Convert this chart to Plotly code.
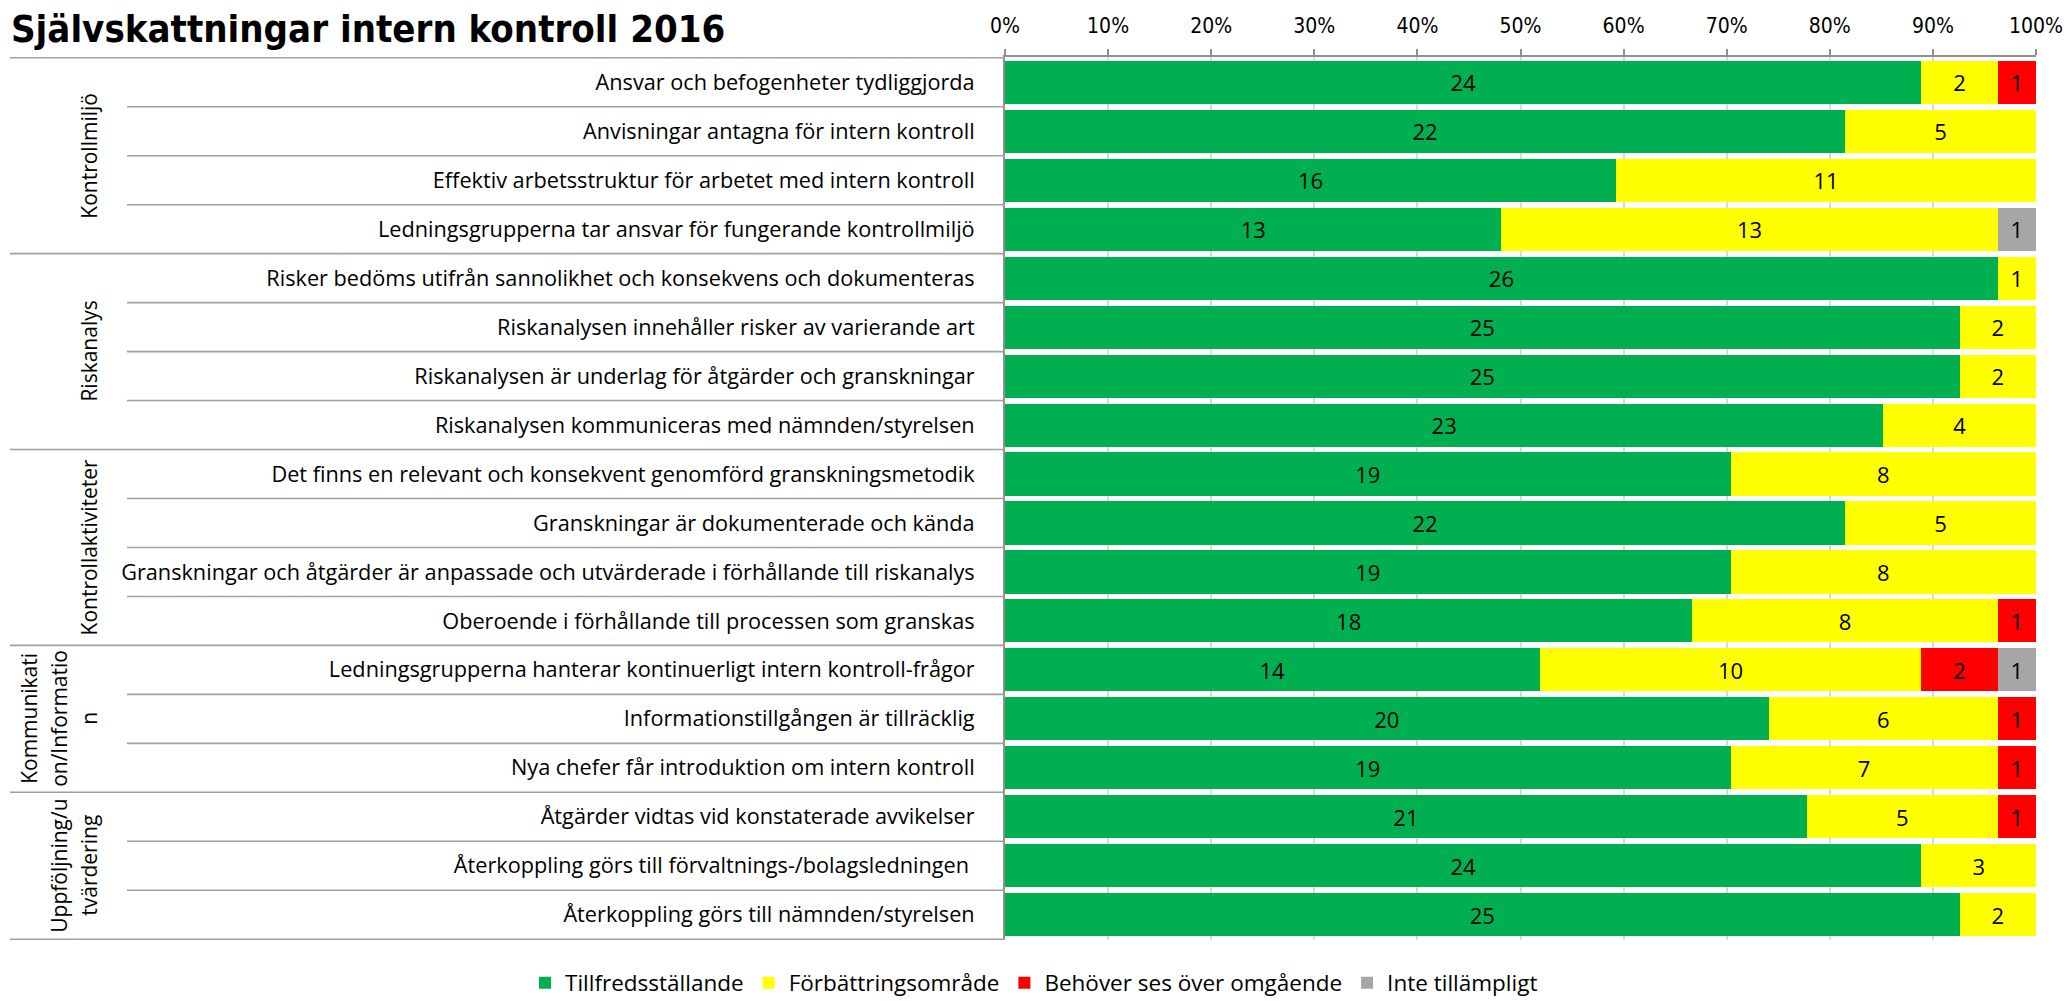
import plotly.graph_objects as go

title_text = "Självskattningar intern kontroll 2016"

categories = [
    "Ansvar och befogenheter tydliggjorda",
    "Anvisningar antagna för intern kontroll",
    "Effektiv arbetsstruktur för arbetet med intern kontroll",
    "Ledningsgrupperna tar ansvar för fungerande kontrollmiljö",
    "Risker bedöms utifrån sannolikhet och konsekvens och dokumenteras",
    "Riskanalysen innehåller risker av varierande art",
    "Riskanalysen är underlag för åtgärder och granskningar",
    "Riskanalysen kommuniceras med nämnden/styrelsen",
    "Det finns en relevant och konsekvent genomförd granskningsmetodik",
    "Granskningar är dokumenterade och kända",
    "Granskningar och åtgärder är anpassade och utvärderade i förhållande till riskanalys",
    "Oberoende i förhållande till processen som granskas",
    "Ledningsgrupperna hanterar kontinuerligt intern kontroll-frågor",
    "Informationstillgången är tillräcklig",
    "Nya chefer får introduktion om intern kontroll",
    "Åtgärder vidtas vid konstaterade avvikelser",
    "Återkoppling görs till förvaltnings-/bolagsledningen ",
    "Återkoppling görs till nämnden/styrelsen",
]

tillfreds = [24, 22, 16, 13, 26, 25, 25, 23, 19, 22, 19, 18, 14, 20, 19, 21, 24, 25]
forbattring = [2, 5, 11, 13, 1, 2, 2, 4, 8, 5, 8, 8, 10, 6, 7, 5, 3, 2]
behover = [1, 0, 0, 0, 0, 0, 0, 0, 0, 0, 0, 1, 2, 1, 1, 1, 0, 0]
inte = [0, 0, 0, 1, 0, 0, 0, 0, 0, 0, 0, 0, 1, 0, 0, 0, 0, 0]

series_names = ["Tillfredsställande", "Förbättringsområde", "Behöver ses över omgående", "Inte tillämpligt"]
series_values = [tillfreds, forbattring, behover, inte]
series_colors = ["#00B050", "#FFFF00", "#FF0000", "#A6A6A6"]

# groups: (label lines, first row index, last row index)
groups = [
    (["Kontrollmiljö"], 0, 3),
    (["Riskanalys"], 4, 7),
    (["Kontrollaktiviteter"], 8, 11),
    (["Kommunikati", "on/Informatio", "n"], 12, 14),
    (["Uppföljning/u", "tvärdering"], 15, 17),
]

tick_vals = [0, 10, 20, 30, 40, 50, 60, 70, 80, 90, 100]
tick_text = [f"{v}%" for v in tick_vals]

# page body has an 8px default margin: figure sized to fit the window
W, H = 2063, 993
L, R, T, B = 997, 35, 49, 61
PW = W - L - R
PH = H - T - B
FONT = "Open Sans, Noto Sans, sans-serif"
COND = "Liberation Sans Narrow, DejaVu Sans Condensed, Open Sans, sans-serif"

fig = go.Figure()
for name, vals, col in zip(series_names, series_values, series_colors):
    fig.add_trace(go.Bar(
        y=categories, x=vals, name=name, orientation="h",
        marker=dict(color=col, line=dict(width=0)),
        text=[str(v) if v else "" for v in vals],
        textposition="inside", insidetextanchor="middle", textangle=0,
        textfont=dict(color="black", size=22, family=FONT),
        hoverinfo="name+x",
    ))

shapes = []
group_starts = {g[1] for g in groups}
n = len(categories)
for b in range(n + 1):
    is_group = b in group_starts or b == n
    shapes.append(dict(
        type="line", xref="paper", xsizemode="pixel", xanchor=0,
        x0=-(L - 2) if is_group else -(L - 119), x1=0,
        yref="y", y0=b - 0.5, y1=b - 0.5,
        line=dict(color="#A0A0A0", width=1.6),
    ))

annotations = []
GF = 21
for lines, s, e in groups:
    yc = (s + e) / 2
    m = len(lines)
    for k, ln in enumerate(lines):
        xc = 81 - 30 * (m - 1 - k)
        annotations.append(dict(
            text=ln, xref="paper", yref="y", x=(xc - L) / PW, y=yc,
            textangle=-90, showarrow=False, xanchor="center", yanchor="middle",
            font=dict(size=GF, family=FONT, color="black"),
        ))

fig.update_layout(
    width=W, height=H,
    margin=dict(l=L, r=R, t=T, b=B, autoexpand=False),
    paper_bgcolor="white", plot_bgcolor="white",
    barmode="stack", barnorm="percent", bargap=0.12,
    title=dict(text="<b>" + title_text + "</b>", xref="container", yref="container",
               x=3 / W, y=1 - 21 / H, xanchor="left", yanchor="middle",
               font=dict(size=38, family=COND, color="black")),
    xaxis=dict(side="top", range=[0, 100], tickvals=tick_vals, ticktext=tick_text,
               showgrid=True, gridcolor="#D9D9D9", gridwidth=1.5,
               showline=True, linecolor="#909090", linewidth=2,
               ticks="outside", ticklen=6, tickcolor="#909090", tickwidth=1.5,
               ticklabelstandoff=8, automargin=False,
               tickfont=dict(size=21, family=COND, color="black"), zeroline=False,
               fixedrange=True),
    yaxis=dict(categoryorder="array", categoryarray=categories, autorange="reversed",
               showline=True, linecolor="#909090", linewidth=2, ticks="",
               ticklabelstandoff=24, automargin=False,
               tickfont=dict(size=21.7, family=FONT, color="black"), showgrid=False),
    legend=dict(orientation="h", xref="paper", yref="paper",
                x=(517 - L) / PW, y=-(975 - (H - B)) / PH, xanchor="left", yanchor="middle",
                font=dict(size=22.5, family=FONT, color="black"),
                traceorder="normal", itemwidth=30),
    shapes=shapes, annotations=annotations,
    font=dict(family=FONT, color="black"),
)

fig.write_html("out.html")
